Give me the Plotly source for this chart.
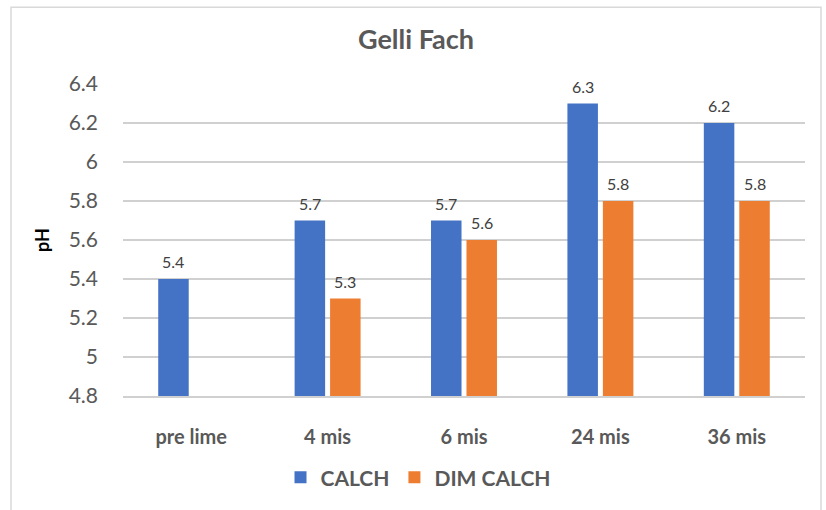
import plotly.graph_objects as go

# pH readings by time since liming
categories = ["pre lime", "4 mis", "6 mis", "24 mis", "36 mis"]
calch = [5.4, 5.7, 5.7, 6.3, 6.2]
dim_calch = [None, 5.3, 5.6, 5.8, 5.8]
y_ticks = [4.8, 5.0, 5.2, 5.4, 5.6, 5.8, 6.0, 6.2, 6.4]
y_tick_text = ["4.8", "5", "5.2", "5.4", "5.6", "5.8", "6", "6.2", "6.4"]

FONT = "Lato, Open Sans, sans-serif"
W, H = 826, 510
L, R, T, B = 123, 21, 84, 109
BARGAP = 0.48
GROUPGAP = 0.14


def bar_trace(name, values, color):
    return go.Bar(
        name=name,
        x=categories,
        y=values,
        marker=dict(color=color, line=dict(width=0)),
        cliponaxis=False,
    )


fig = go.Figure()
fig.add_trace(bar_trace("CALCH", calch, "#4472C4"))
fig.add_trace(bar_trace("DIM CALCH", dim_calch, "#ED7D31"))

# value labels above each bar, offset to the centre of its slot in the group
slot = (1 - BARGAP) / 2
annotations = []
for s, values in enumerate([calch, dim_calch]):
    offset = -slot / 2 + s * slot
    for i, v in enumerate(values):
        if v is None:
            continue
        annotations.append(
            dict(
                x=i + offset,
                y=v,
                xref="x",
                yref="y",
                text=f"{v:.1f}",
                showarrow=False,
                yanchor="bottom",
                yshift=6,
                font=dict(family=FONT, size=16, color="#404040"),
            )
        )

pw = W - L - R
ph = H - T - B

fig.update_layout(
    width=W,
    height=H,
    margin=dict(l=L, r=R, t=T, b=B),
    paper_bgcolor="white",
    plot_bgcolor="white",
    barmode="group",
    bargap=BARGAP,
    bargroupgap=GROUPGAP,
    title=dict(
        text="<b>Gelli Fach</b>",
        x=416 / W,
        xanchor="center",
        xref="container",
        y=1 - 40 / H,
        yanchor="middle",
        font=dict(family=FONT, size=27, color="#595959"),
    ),
    font=dict(family=FONT),
    legend=dict(
        orientation="h",
        x=(418 - L) / pw,
        xanchor="center",
        y=-(484 - (H - B)) / ph,
        yanchor="middle",
        font=dict(family=FONT, size=21, color="#595959", weight="bold"),
        itemwidth=30,
        traceorder="normal",
    ),
    showlegend=True,
    xaxis=dict(
        showgrid=False,
        showline=True,
        linecolor="#D0D0D0",
        linewidth=1.5,
        ticks="",
        tickfont=dict(family=FONT, size=20, color="#595959", weight="bold"),
        ticklabelstandoff=22,
    ),
    yaxis=dict(
        range=[4.8, 6.4005],
        tickvals=y_ticks,
        ticktext=y_tick_text,
        showgrid=True,
        gridcolor="#D0D0D0",
        gridwidth=1.5,
        zeroline=False,
        showline=False,
        ticks="",
        tickfont=dict(family=FONT, size=21, color="#595959"),
        ticklabelstandoff=24,
        title=dict(
            text="<b>pH</b>",
            font=dict(family=FONT, size=18, color="#000000"),
            standoff=14,
        ),
    ),
    annotations=annotations,
    shapes=[
        dict(
            type="rect",
            xref="paper",
            yref="paper",
            x0=(11 - L) / pw,
            x1=(821 - L) / pw,
            y0=-(H + 20 - (H - B)) / ph,
            y1=(H - B - 6) / ph,
            line=dict(color="#D9D9D9", width=1.5),
            fillcolor="rgba(0,0,0,0)",
            layer="below",
        )
    ],
)

fig.write_html("out.html")
